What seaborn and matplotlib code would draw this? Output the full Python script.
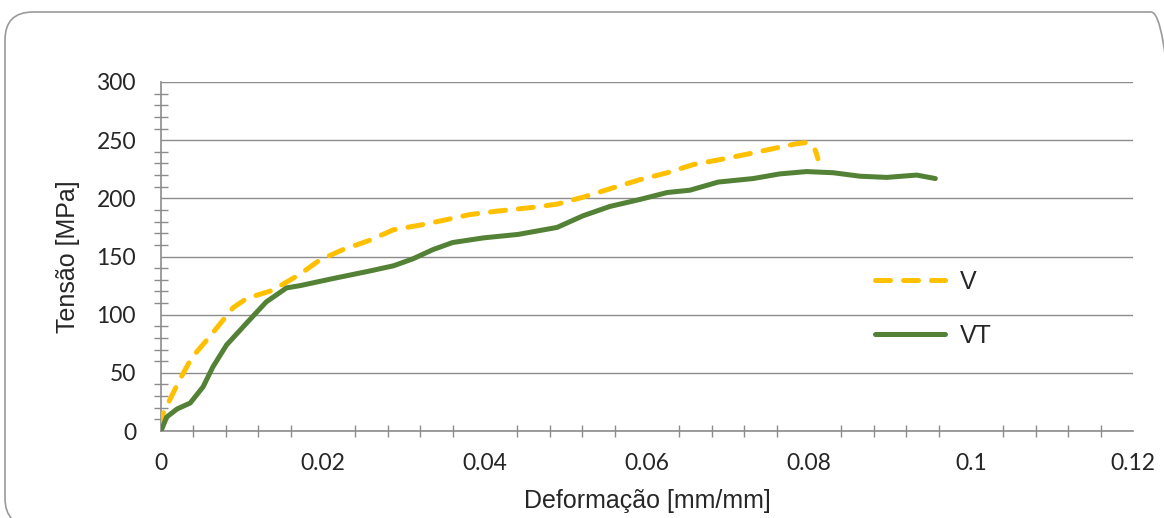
import numpy as np
import pandas as pd
import matplotlib
matplotlib.use("Agg")
import matplotlib.pyplot as plt
import seaborn as sns
from matplotlib.patches import FancyBboxPatch
from matplotlib.ticker import MultipleLocator

# curva V (tracejada amarela)
v_x = [0, 0.00025, 0.0023, 0.0038, 0.006, 0.0089, 0.0106, 0.0138, 0.0172, 0.0196,
       0.0225, 0.0258, 0.0287, 0.032, 0.0348, 0.0381, 0.0415, 0.0456, 0.0489, 0.0521,
       0.0558, 0.0591, 0.0625, 0.0657, 0.0688, 0.0731, 0.0764, 0.0785, 0.0797, 0.0803,
       0.0808, 0.0811]
v_y = [3, 15, 44, 63, 81, 106, 114, 121, 135, 147,
       156, 164, 173, 177, 181, 186, 189, 192, 195, 201,
       209, 216, 222, 229, 233, 239, 244, 247, 248, 246,
       241, 234]

# curva VT (verde)
vt_x = [0, 0.0007, 0.002, 0.0036, 0.0052, 0.0064, 0.0081, 0.0106, 0.013, 0.0155,
        0.0172, 0.0212, 0.0254, 0.0287, 0.0311, 0.0336, 0.036, 0.0398, 0.0441, 0.0489,
        0.0521, 0.0554, 0.0591, 0.0625, 0.0653, 0.0688, 0.0731, 0.0764, 0.0797, 0.083,
        0.0863, 0.0896, 0.0933, 0.0956]
vt_y = [0, 12, 19, 24, 38, 55, 74, 93, 111, 123,
        125, 131, 137, 142, 148, 156, 162, 166, 169, 175,
        185, 193, 199, 205, 207, 214, 217, 221, 223, 222,
        219, 218, 220, 217]

xtick_labels = ["0", "0.02", "0.04", "0.06", "0.08", "0.1", "0.12"]

sns.set_style("white")
plt.rcParams["font.family"] = ["Lato", "DejaVu Sans"]
arial = ["Liberation Sans", "DejaVu Sans"]

fig = plt.figure(figsize=(11.64, 5.18), dpi=100)
ax = fig.add_axes([161 / 1164, 1 - 431 / 518, 972 / 1164, 349 / 518])

# moldura arredondada (sai pela direita e por baixo)
frame = FancyBboxPatch((0.05, -0.08), 11.74, 5.14,
                       boxstyle="round,pad=0,rounding_size=0.28",
                       transform=fig.dpi_scale_trans, facecolor="none",
                       edgecolor="#9a9a9a", linewidth=1.2, clip_on=False)
fig.patches.append(frame)

df_v = pd.DataFrame({"x": v_x, "y": v_y})
df_vt = pd.DataFrame({"x": vt_x, "y": vt_y})

sns.lineplot(data=df_v, x="x", y="y", ax=ax, sort=False, estimator=None,
             color="#FFC000", linewidth=3.6, label="V",
             linestyle=(0, (3, 2.6)), dash_capstyle="round", zorder=3)
sns.lineplot(data=df_vt, x="x", y="y", ax=ax, sort=False, estimator=None,
             color="#538135", linewidth=3.6, label="VT",
             solid_capstyle="round", zorder=4)

ax.set_xlim(0, 0.12)
ax.set_ylim(0, 300)
ax.xaxis.set_minor_locator(MultipleLocator(0.004))
ax.yaxis.set_major_locator(MultipleLocator(50))
ax.yaxis.set_minor_locator(MultipleLocator(10))
ax.set_xticks(np.arange(0, 0.1201, 0.02))
ax.set_xticklabels(xtick_labels)

gray = "#8c8c8c"
ax.grid(True, axis="y", which="major", color=gray, linewidth=1)
ax.grid(False, axis="x")
for s in ["top", "right"]:
    ax.spines[s].set_visible(False)
for s in ["left", "bottom"]:
    ax.spines[s].set_color(gray)
    ax.spines[s].set_linewidth(1.2)

ax.tick_params(axis="y", which="major", direction="out", length=6, width=1,
               color=gray, labelsize=16.5, pad=12)
ax.tick_params(axis="y", which="minor", direction="inout", length=10, width=1,
               color=gray, left=True)
ax.tick_params(axis="x", which="major", direction="inout", length=12, width=1,
               color=gray, labelsize=16.5, pad=10)
ax.tick_params(axis="x", which="minor", direction="inout", length=9, width=1,
               color=gray, bottom=True)

ax.set_xlabel("Deformação [mm/mm]", fontsize=18, family=arial)
ax.set_ylabel("Tensão [MPa]", fontsize=18, family=arial)
ax.xaxis.set_label_coords(0.5, -0.166)
ax.yaxis.set_label_coords(-0.083, 0.5)

leg = ax.legend(loc="upper left", bbox_to_anchor=(0.7346, 0.461), frameon=False,
                prop={"family": arial, "size": 18}, handlelength=2.8,
                labelspacing=1.2, handletextpad=0.6, borderpad=0, borderaxespad=0)
for h in leg.get_lines():
    h.set_linewidth(3.6)

fig.savefig("out.png", dpi=100)
